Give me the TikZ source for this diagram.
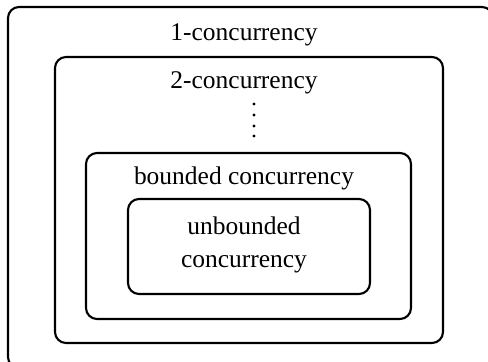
\documentclass[tikz,border=0pt]{standalone}
\usepackage{fontspec}
\setmainfont{Liberation Serif}
\begin{document}
\begin{tikzpicture}[x=0.02cm,y=-0.02cm,line width=1.2pt]
  \tikzset{box/.style={rounded corners=0.22cm},
    lbl/.style={font=\fontsize{14.5}{19}\selectfont, align=center}}
  \clip (0,0) rectangle (488,362);

  % Concurrency levels
  \draw[box] (8,7) rectangle (493,368);
  \draw[box] (55,57) rectangle (443,343);
  \draw[box] (86,153) rectangle (411,319);
  \draw[box] (128,199) rectangle (370,294);

  % Labels
  \node[lbl] (one) at (244,35) {1-concurrency};
  \node[lbl] (two) at (244,83) {2-concurrency};
  \node[lbl] (bnd) at (244,178) {bounded concurrency};
  \node[lbl] (unb) at (244,245) {unbounded\\concurrency};

  % Vertical dots
  \foreach \y in {104,115,126,136} {
    \fill (254,\y) circle (1.6);
  }
\end{tikzpicture}
\end{document}
